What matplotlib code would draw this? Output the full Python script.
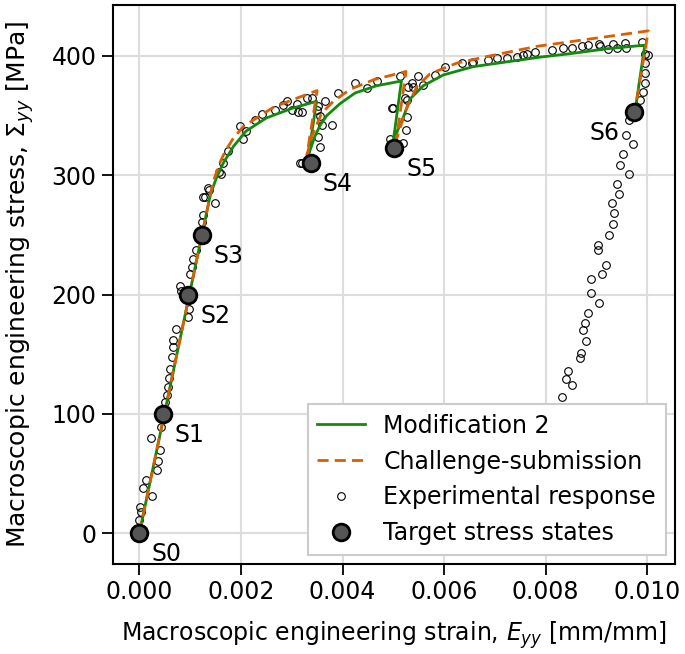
import numpy as np
import matplotlib
matplotlib.use("Agg")
import matplotlib.pyplot as plt
from matplotlib.ticker import FormatStrFormatter

# Modification 2 (solid green)
mod2_strain = [0, 0.00140, 0.00152, 0.00165, 0.00185, 0.00210, 0.00250, 0.00300, 0.00349,
               0.00333, 0.00345, 0.00356, 0.00369, 0.00395, 0.00425, 0.00467, 0.00516,
               0.00500, 0.00520, 0.00533, 0.00559, 0.00598, 0.00657, 0.00723, 0.00789,
               0.00850, 0.00920, 0.00995, 0.00978]
mod2_stress = [0, 284, 298, 310, 324, 337, 348, 356, 362,
               317, 332, 342, 350, 360, 369, 375, 379,
               329, 349, 364, 375, 384, 391, 395, 399,
               402, 406, 409, 360]

# Challenge-submission (dashed orange)
chal_strain = [0, 0.00145, 0.00158, 0.00169, 0.00185, 0.00205, 0.00264, 0.00300, 0.00350,
               0.00330, 0.00339, 0.00359, 0.00382, 0.00415, 0.00461, 0.00525,
               0.00506, 0.00526, 0.00546, 0.00572, 0.00625, 0.00690, 0.00782, 0.01002,
               0.00978]
chal_stress = [0, 294, 310, 320, 331, 341, 357, 363, 371,
               317, 332, 352, 362, 372, 380, 387,
               330, 356, 374, 385, 394, 400, 408, 421,
               360]

# Experimental response (open circles)
exp_strain = [0, 0.000034, 0.000014, 0.000244, 0.000079, 0.000126, 0.000342, 0.000374, 0.000407,
              0.000230, 0.000427, 0.000506, 0.00054, 0.00057, 0.00058, 0.0006, 0.00064, 0.00066,
              0.00067, 0.00072, 0.00095, 0.00098, 0.00081, 0.00083, 0.0010, 0.00103, 0.00106,
              0.00111, 0.00123, 0.00126, 0.00129, 0.00136, 0.00149, 0.00157, 0.00161, 0.00165,
              0.00138, 0.00125, 0.00175, 0.00198, 0.00205, 0.00211, 0.00228, 0.00241, 0.00267,
              0.00283, 0.0029, 0.0030, 0.0031, 0.0032, 0.00313, 0.0033, 0.00339, 0.00349,
              0.00352, 0.00356, 0.00359, 0.00352, 0.00356, 0.0032, 0.00366, 0.00379, 0.00392,
              0.00425, 0.00448, 0.00467, 0.00316,
              0.00497, 0.00526, 0.00526, 0.00525, 0.00494, 0.00549, 0.00536, 0.00582, 0.00602,
              0.00635, 0.00657, 0.00513, 0.00529, 0.00539, 0.00559, 0.00523, 0.005, 0.0052,
              0.00654, 0.00687, 0.00704, 0.00723, 0.00743, 0.00756, 0.00763, 0.00779,
              0.00812, 0.00835, 0.00851, 0.00871, 0.00884, 0.00904, 0.00907, 0.00923, 0.00933,
              0.0094, 0.00956, 0.00959, 0.00989, 0.00995, 0.01002, 0.00995, 0.00995, 0.00995,
              0.00992, 0.00986,
              0.00963, 0.00958, 0.00972, 0.00953, 0.00946, 0.00963, 0.00941, 0.00944, 0.0093,
              0.00934, 0.00932, 0.00925, 0.00902, 0.00902, 0.00919, 0.00911, 0.00889, 0.00889,
              0.00904, 0.00884, 0.00877, 0.00873, 0.00879, 0.00869, 0.00868, 0.00843, 0.0084,
              0.00851, 0.00833]
exp_stress = [11, 18, 22, 31, 38, 45, 53, 61, 70,
              80, 89, 110, 116, 123, 130, 138, 148, 156,
              162, 171, 181, 188, 207, 203, 217, 223, 230,
              237, 261, 267, 282, 289, 277, 303, 301, 310,
              288, 282, 320, 341, 330, 337, 346, 351, 355,
              359, 362, 355, 360, 353, 353, 365, 365, 355,
              358, 350, 342, 332, 324, 310, 362, 342, 369,
              377, 373, 379, 310,
              356, 363, 349, 338, 330, 383, 377, 384, 391,
              394, 395, 383, 374, 374, 376, 365, 356, 327,
              394, 397, 398, 398, 399, 401, 402, 403,
              405, 407, 407, 408, 409, 410, 408, 406, 410,
              407, 411, 407, 412, 402, 401, 394, 386, 377,
              370, 363,
              346, 334, 326, 318, 309, 301, 293, 284, 277,
              268, 259, 250, 242, 237, 225, 217, 213, 201,
              193, 185, 176, 170, 161, 151, 147, 136, 129,
              124, 114]

# Target stress states
target_strain = [0, 0.000465, 0.00096, 0.00123, 0.00337, 0.00502, 0.00974]
target_stress = [0, 100, 200, 250, 310, 323, 353]
target_labels = ["S0", "S1", "S2", "S3", "S4", "S5", "S6"]

plt.rcParams["font.family"] = "DejaVu Sans"
plt.rcParams["font.size"] = 17

fig = plt.figure(figsize=(6.85, 6.54), dpi=100)
ax = fig.add_axes([0.1645, 0.1376, 0.8209, 0.8548])

ax.plot(mod2_strain, mod2_stress, color="#138a0c", lw=2, label="Modification 2", zorder=3)
ax.plot(chal_strain, chal_stress, color="#d95f02", lw=2, ls="--", dashes=(4, 2.2),
        label="Challenge-submission", zorder=3)
ax.plot(exp_strain, exp_stress, ls="none", marker="o", ms=5.5, mfc="none", mec="black",
        mew=0.8, label="Experimental response", zorder=2)
ax.plot(target_strain, target_stress, ls="none", marker="o", ms=12, mfc="#555555",
        mec="black", mew=2, label="Target stress states", zorder=5)

for xs, ys, lab in zip(target_strain, target_stress, target_labels):
    if lab == "S6":
        ax.annotate(lab, (xs, ys), xytext=(-15, -21), textcoords="offset pixels",
                    ha="right", va="center", fontsize=17)
    else:
        ax.annotate(lab, (xs, ys), xytext=(12, -21), textcoords="offset pixels",
                    ha="left", va="center", fontsize=17)

ax.set_xlim(-0.000524, 0.010545)
ax.set_ylim(-25.7, 442.7)
ax.set_xticks([0, 0.002, 0.004, 0.006, 0.008, 0.010])
ax.set_yticks([0, 100, 200, 300, 400])
ax.xaxis.set_major_formatter(FormatStrFormatter("%.3f"))
ax.grid(True, color="#dddddd", lw=1.5)
ax.set_axisbelow(True)
for s in ax.spines.values():
    s.set_linewidth(1.5)
ax.tick_params(length=8, width=1.3)

ax.set_xlabel("Macroscopic engineering strain, $E_{yy}$ [mm/mm]", labelpad=11)
ax.set_ylabel("Macroscopic engineering stress, $\\Sigma_{yy}$ [MPa]", fontsize=18,
              labelpad=11)

leg = ax.legend(loc="lower right", fancybox=False, edgecolor="#cccccc", framealpha=1,
                fontsize=17, borderaxespad=0.4)
leg.get_frame().set_linewidth(1.5)

fig.savefig("out.png", dpi=100)
